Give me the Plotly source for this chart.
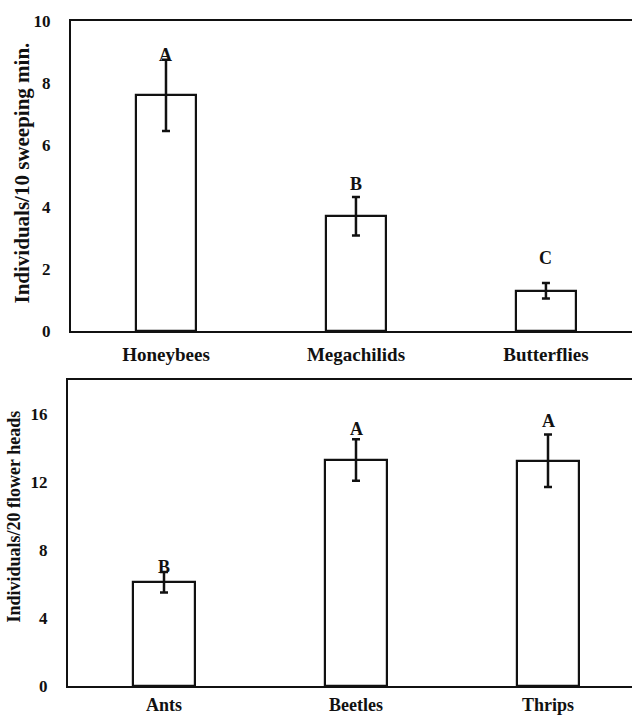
import plotly.graph_objects as go

# ---- data ----
pollinators = ["Honeybees", "Megachilids", "Butterflies"]
pollinator_means = [7.6, 3.7, 1.3]
pollinator_se = [1.15, 0.62, 0.25]
pollinator_letters = ["A", "B", "C"]
pollinator_letter_y = [8.9, 4.74, 2.35]

visitors = ["Ants", "Beetles", "Thrips"]
visitor_means = [6.1, 13.3, 13.25]
visitor_se = [0.6, 1.22, 1.55]
visitor_letters = ["B", "A", "A"]
visitor_letter_y = [7.0, 15.14, 15.6]

W, H = 632, 716
FONT = "Liberation Serif, Times New Roman, DejaVu Serif, serif"
INK = "#111111"

fig = go.Figure()

fig.add_trace(go.Bar(
    x=pollinators, y=pollinator_means, width=0.316,
    marker=dict(color="white", line=dict(color=INK, width=2.2)),
    error_y=dict(type="data", array=pollinator_se, color=INK, thickness=2.5, width=4),
    xaxis="x", yaxis="y", showlegend=False,
))
fig.add_trace(go.Bar(
    x=visitors, y=visitor_means, width=0.318,
    marker=dict(color="white", line=dict(color=INK, width=2.2)),
    error_y=dict(type="data", array=visitor_se, color=INK, thickness=2.5, width=4),
    xaxis="x2", yaxis="y2", showlegend=False,
))

top_dom = [1 - 331 / H, 1 - 21 / H]
bot_dom = [1 - 686 / H, 1 - 380 / H]

axis_common = dict(showline=True, linecolor=INK, linewidth=2, showgrid=False,
                   zeroline=False, ticks="", automargin=False)
tickfont = dict(family=FONT, size=17, color=INK, weight="bold")
xtickfont = dict(family=FONT, size=19, color=INK, weight="bold")
xtickfont2 = dict(family=FONT, size=18, color=INK, weight="bold")

fig.update_layout(
    width=W, height=H,
    margin=dict(l=0, r=0, t=0, b=0),
    paper_bgcolor="white", plot_bgcolor="white",
    font=dict(family=FONT, color=INK),
    xaxis=dict(domain=[71 / W, 1], anchor="y", range=[-0.5, 2.453], mirror=True,
               tickfont=xtickfont, ticklabelstandoff=5, **axis_common),
    yaxis=dict(domain=top_dom, anchor="x", range=[0, 10], dtick=2, mirror=False,
               tickfont=tickfont, ticklabelstandoff=15, **axis_common),
    xaxis2=dict(domain=[68 / W, 1], anchor="y2", range=[-0.5, 2.4375], mirror=True,
                tickfont=xtickfont2, ticklabelstandoff=1, **axis_common),
    yaxis2=dict(domain=bot_dom, anchor="x2", range=[0, 18], tickvals=[0, 4, 8, 12, 16],
                mirror=False, tickfont=tickfont, ticklabelstandoff=15, **axis_common),
    bargap=0,
)

annotations = []
for cat, ly, lt in zip(pollinators, pollinator_letter_y, pollinator_letters):
    annotations.append(dict(x=cat, y=ly, xref="x", yref="y", text="<b>%s</b>" % lt,
                            showarrow=False, yanchor="middle",
                            font=dict(family=FONT, size=18, color=INK)))
for cat, ly, lt in zip(visitors, visitor_letter_y, visitor_letters):
    annotations.append(dict(x=cat, y=ly, xref="x2", yref="y2", text="<b>%s</b>" % lt,
                            showarrow=False, yanchor="middle",
                            font=dict(family=FONT, size=18, color=INK)))

annotations.append(dict(x=22 / W, y=1 - 173.5 / H, xref="paper", yref="paper",
                        text="<b>Individuals/10 sweeping min.</b>", textangle=-90,
                        showarrow=False, xanchor="center", yanchor="middle",
                        font=dict(family=FONT, size=21, color=INK)))
annotations.append(dict(x=13.5 / W, y=1 - 517 / H, xref="paper", yref="paper",
                        text="<b>Individuals/20 flower heads</b>", textangle=-90,
                        showarrow=False, xanchor="center", yanchor="middle",
                        font=dict(family=FONT, size=18, color=INK)))
fig.update_layout(annotations=annotations)

fig.write_html("out.html")
